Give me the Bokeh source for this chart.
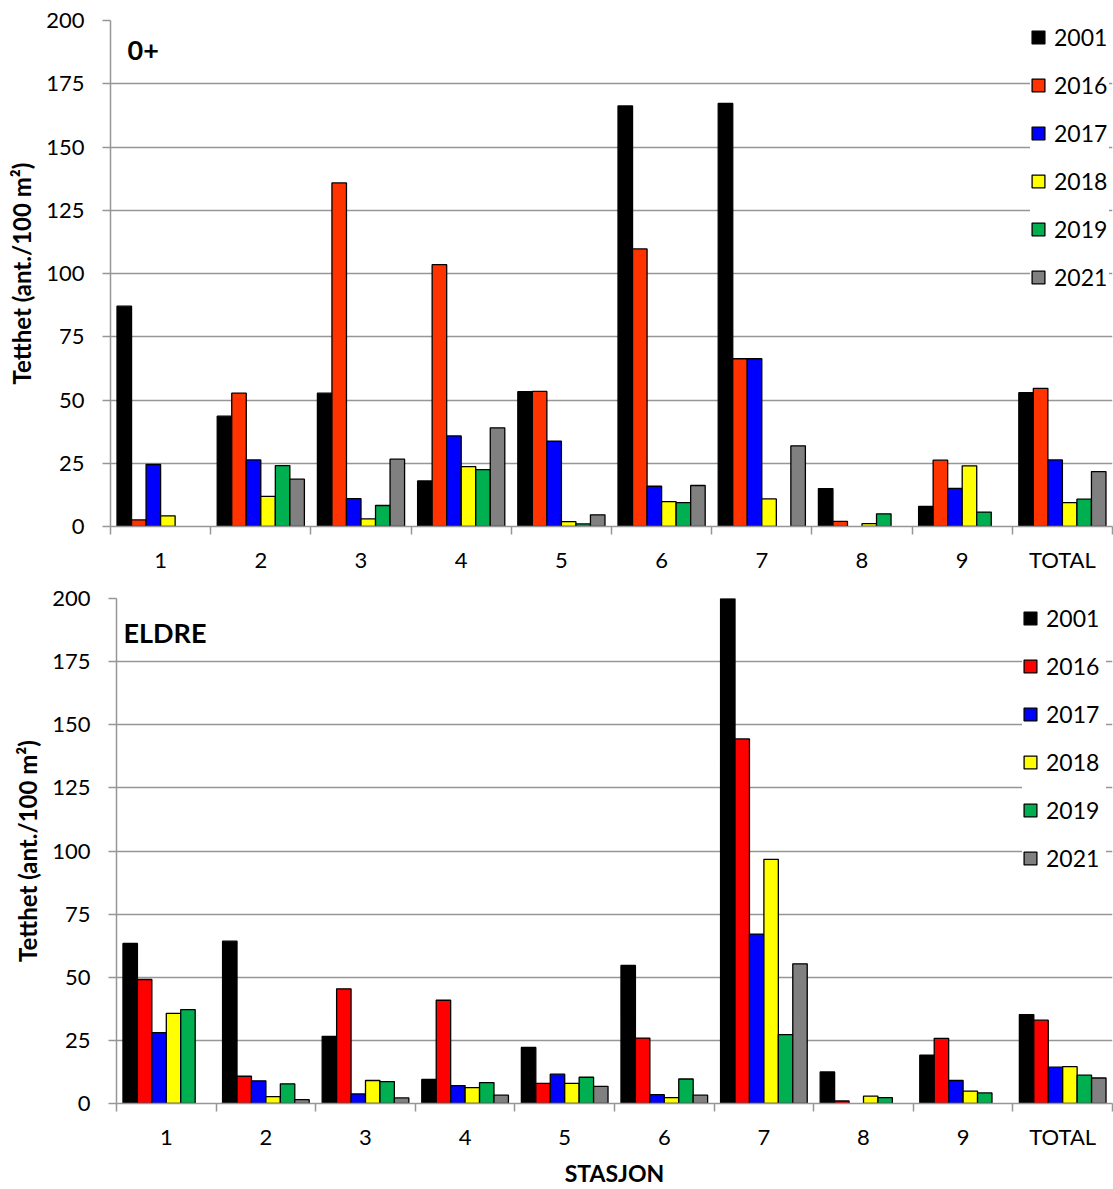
from bokeh.plotting import figure
from bokeh.models import (ColumnDataSource, Range1d, LinearAxis, FixedTicker, Legend,
                          LegendItem, Label)
from bokeh.transform import dodge
from bokeh.layouts import column
from bokeh.embed import file_html
from bokeh.resources import INLINE

nan = float("nan")

stations = ["1", "2", "3", "4", "5", "6", "7", "8", "9", "TOTAL"]
years = ["2001", "2016", "2017", "2018", "2019", "2021"]
y_ticks = [0, 25, 50, 75, 100, 125, 150, 175, 200]

# 0+ density (ant./100 m2)
yng_2001 = [87.1, 43.6, 52.7, 18.0, 53.3, 166.2, 167.2, 15.0, 7.9, 52.9]
yng_2016 = [2.6, 52.7, 135.8, 103.5, 53.4, 109.7, 66.3, 2.0, 26.2, 54.6]
yng_2017 = [24.5, 26.3, 11.0, 35.8, 33.7, 15.9, 66.3, nan, 15.1, 26.3]
yng_2018 = [4.2, 11.9, 3.0, 23.7, 1.9, 9.8, 10.9, 1.1, 24.0, 9.4]
yng_2019 = [nan, 24.1, 8.3, 22.5, 1.0, 9.4, nan, 5.0, 5.7, 10.8]
yng_2021 = [nan, 18.7, 26.6, 39.0, 4.6, 16.2, 31.9, nan, nan, 21.7]

# ELDRE density (ant./100 m2)
old_2001 = [63.4, 64.3, 26.6, 9.5, 22.2, 54.7, 205.0, 12.5, 19.1, 35.2]
old_2016 = [49.1, 10.8, 45.4, 40.9, 8.0, 25.9, 144.4, 1.0, 25.8, 33.0]
old_2017 = [28.1, 9.0, 3.8, 7.1, 11.6, 3.5, 67.1, nan, 9.1, 14.4]
old_2018 = [35.7, 2.7, 9.1, 6.3, 8.0, 2.3, 96.7, 2.9, 4.9, 14.6]
old_2019 = [37.2, 7.8, 8.7, 8.3, 10.4, 9.7, 27.3, 2.3, 4.2, 11.2]
old_2021 = [nan, 1.5, 2.2, 3.3, 6.8, 3.3, 55.3, nan, nan, 10.1]

colors_top = ["#000000", "#FF3300", "#0000FF", "#FFFF00", "#00B050", "#808080"]
colors_bot = ["#000000", "#FF0000", "#0000FF", "#FFFF00", "#00B050", "#808080"]

FONT = "Lato"
GRID = "#969696"
BAR_W = 0.145

n = len(stations)
centers = [j + 0.5 for j in range(n)]          # category centres on a 0..n axis
boundaries = list(range(n + 1))                # separators between stations


def make_chart(values, colors, title, height, left, top, bottom, title_xy,
               leg_margin, leg_padding, leg_label_width, xlabel=None):
    data = {"xc": centers, "station": stations}
    for yr, v in zip(years, values):
        data["y" + yr] = v
    src = ColumnDataSource(data)

    p = figure(x_range=Range1d(0, n), y_range=Range1d(0, 200),
               width=1113, height=height, output_backend="svg", toolbar_location=None,
               x_axis_location=None, min_border_left=left, min_border_right=1,
               min_border_top=top, min_border_bottom=bottom, frame_align=False)
    p.outline_line_color = None
    p.border_fill_color = "white"
    p.background_fill_color = "white"

    renderers = []
    for i, (yr, col) in enumerate(zip(years, colors)):
        r = p.vbar(x=dodge("xc", (i - 2.5) * BAR_W), top="y" + yr,
                   width=BAR_W, fill_color=col, line_color="black", line_width=1.3, source=src)
        renderers.append(r)

    # y axis
    ya = p.yaxis[0]
    ya.ticker = FixedTicker(ticks=y_ticks)
    ya.axis_line_color = GRID
    ya.axis_line_width = 1.5
    ya.major_tick_line_color = GRID
    ya.major_tick_line_width = 1.5
    ya.major_tick_out = 8
    ya.major_tick_in = 0
    ya.minor_tick_line_color = None
    ya.major_label_text_font = FONT
    ya.major_label_text_font_size = "22px"
    ya.major_label_text_color = "black"
    ya.major_label_standoff = 18
    ya.axis_label = "Tetthet (ant./100 m²)"
    ya.axis_label_text_font = FONT
    ya.axis_label_text_font_style = "bold"
    ya.axis_label_text_font_size = "24px"
    ya.axis_label_text_color = "black"
    ya.axis_label_standoff = 7

    p.xgrid.visible = False
    p.ygrid.grid_line_color = GRID
    p.ygrid.grid_line_width = 1.5

    # station axis: labels at centres, separator ticks between stations
    xa = LinearAxis(ticker=FixedTicker(ticks=centers, minor_ticks=boundaries),
                    major_label_overrides={c: s for c, s in zip(centers, stations)},
                    major_tick_line_color=None, major_tick_out=8, major_tick_in=0,
                    minor_tick_line_color=GRID, minor_tick_line_width=1.5,
                    minor_tick_out=8, minor_tick_in=0,
                    axis_line_color=GRID, axis_line_width=1.5,
                    major_label_text_font=FONT, major_label_text_font_size="22px",
                    major_label_text_color="black", major_label_standoff=11)
    if xlabel:
        xa.axis_label = xlabel
        xa.axis_label_text_font = FONT
        xa.axis_label_text_font_style = "bold"
        xa.axis_label_text_font_size = "23px"
        xa.axis_label_text_color = "black"
        xa.axis_label_standoff = 6
    p.add_layout(xa, "below")

    legend = Legend(items=[LegendItem(label=yr, renderers=[r]) for yr, r in zip(years, renderers)],
                    location="top_right", margin=leg_margin, padding=leg_padding, spacing=20,
                    glyph_width=16, glyph_height=16, label_standoff=8,
                    label_width=leg_label_width,
                    label_text_font=FONT, label_text_font_size="23px", label_text_color="black",
                    background_fill_color="white", background_fill_alpha=1.0,
                    border_line_color=None)
    p.add_layout(legend)

    p.add_layout(Label(x=title_xy[0], y=title_xy[1], text=title,
                       text_font=FONT, text_font_style="bold", text_font_size="27px",
                       text_baseline="middle", text_align="left", text_color="black"))
    return p


top_chart = make_chart([yng_2001, yng_2016, yng_2017, yng_2018, yng_2019, yng_2021],
                       colors_top, "0+", height=580, left=110, top=20, bottom=54,
                       title_xy=(0.17, 188.1), leg_margin=3, leg_padding=13,
                       leg_label_width=55)
bot_chart = make_chart([old_2001, old_2016, old_2017, old_2018, old_2019, old_2021],
                       colors_bot, "ELDRE", height=609, left=116, top=18, bottom=85,
                       title_xy=(0.07, 186.6), leg_margin=6, leg_padding=19,
                       leg_label_width=60, xlabel="STASJON")

layout = column(top_chart, bot_chart, spacing=0)

with open("out.html", "w") as f:
    f.write(file_html(layout, INLINE))
